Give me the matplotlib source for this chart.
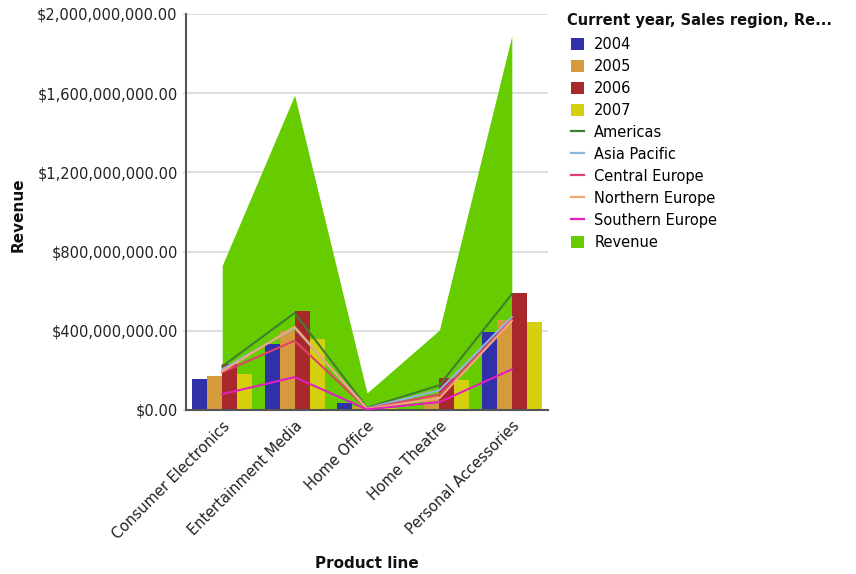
import matplotlib
matplotlib.use("Agg")
import matplotlib.pyplot as plt
import numpy as np
from matplotlib.lines import Line2D
from matplotlib.patches import Patch
from matplotlib.ticker import FuncFormatter

categories = ["Consumer Electronics", "Entertainment Media", "Home Office",
              "Home Theatre", "Personal Accessories"]
years = ["2004", "2005", "2006", "2007"]
year_values = {
    "2004": [0.155e9, 0.333e9, 0.034e9, 0.004e9, 0.393e9],
    "2005": [0.171e9, 0.400e9, 0.015e9, 0.073e9, 0.455e9],
    "2006": [0.233e9, 0.500e9, 0.022e9, 0.164e9, 0.592e9],
    "2007": [0.183e9, 0.360e9, 0.010e9, 0.149e9, 0.443e9],
}
regions = ["Americas", "Asia Pacific", "Central Europe", "Northern Europe", "Southern Europe"]
region_values = {
    "Americas":        [0.220e9, 0.490e9, 0.012e9, 0.125e9, 0.585e9],
    "Asia Pacific":    [0.205e9, 0.415e9, 0.009e9, 0.100e9, 0.470e9],
    "Central Europe":  [0.190e9, 0.350e9, 0.007e9, 0.078e9, 0.455e9],
    "Northern Europe": [0.195e9, 0.420e9, 0.006e9, 0.060e9, 0.450e9],
    "Southern Europe": [0.080e9, 0.166e9, 0.003e9, 0.040e9, 0.205e9],
}
revenue = [0.73e9, 1.59e9, 0.086e9, 0.404e9, 1.89e9]

year_colors = ["#3030a8", "#d49a3c", "#a8282c", "#d4d010"]
region_colors = ["#3f7f2f", "#8fb4e0", "#e0406c", "#f0a878", "#e020c0"]
area_color = "#66cc00"

plt.rcParams['font.family'] = ['DejaVu Sans']
fig = plt.figure(figsize=(8.56, 5.74), dpi=100)
ax = fig.add_axes([186/856, 1-410/574, (548-186)/856, (410-14)/574])

x = np.arange(len(categories))
ax.fill_between(x, 0, revenue, color=area_color, linewidth=0, zorder=1)

w = 0.207
for i, y in enumerate(years):
    ax.bar(x + (i-1.5)*w, year_values[y], width=w, color=year_colors[i],
           linewidth=0, zorder=2)

for r, c in zip(regions, region_colors):
    ax.plot(x, region_values[r], color=c, linewidth=1.5, zorder=3)

ax.set_xlim(-0.5, 4.5)
ax.set_ylim(0, 2e9)
ax.set_yticks(np.arange(0, 2.01e9, 0.4e9))
ax.yaxis.set_major_formatter(FuncFormatter(lambda v, p: "${:,.2f}".format(v)))
ax.grid(axis='y', color='#d8d8d8', linewidth=1.2, zorder=0)
ax.set_axisbelow(True)
ax.set_xticks(x)
ax.set_xticklabels(categories, rotation=45, ha='right', rotation_mode='anchor',
                   fontsize=10.5, color='#222222')
ax.tick_params(axis='x', length=0, pad=6)
ax.tick_params(axis='y', length=3, color='#d8d8d8', labelsize=10.5,
               labelcolor='#222222', pad=3)
for s in ['top', 'right']:
    ax.spines[s].set_visible(False)
ax.spines['left'].set_color('#555555')
ax.spines['left'].set_linewidth(1.5)
ax.spines['bottom'].set_color('#555555')
ax.spines['bottom'].set_linewidth(1.5)

fig.text(18/856, 1-215/574, "Revenue", rotation=90, fontsize=11, fontweight='bold',
         ha='center', va='center', color='#111111')
fig.text(367/856, 1-563/574, "Product line", fontsize=11, fontweight='bold',
         ha='center', va='center', color='#111111')

fig.text(567/856, 1-20/574, "Current year, Sales region, Re...", fontsize=10.5,
         fontweight='bold', ha='left', va='center', color='#111111')

handles = [Patch(facecolor=c, edgecolor='none') for c in year_colors]
handles += [Line2D([0], [0], color=c, linewidth=1.6) for c in region_colors]
handles += [Patch(facecolor=area_color, edgecolor='none')]
labels = years + regions + ["Revenue"]
leg = fig.legend(handles, labels, loc='upper left',
                 bbox_to_anchor=(571/856, 1-37/574), frameon=False,
                 fontsize=10.5, handlelength=0.9, handleheight=0.9,
                 handletextpad=0.7, labelspacing=0.48, borderaxespad=0,
                 borderpad=0)

fig.savefig("out.png", dpi=100)
